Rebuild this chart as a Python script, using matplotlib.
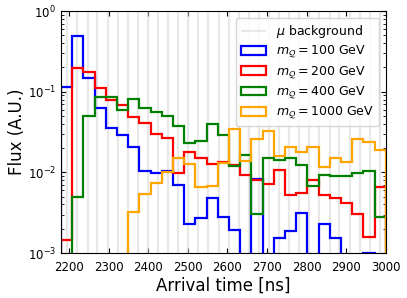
import numpy as np
import matplotlib
matplotlib.use('Agg')
import matplotlib.pyplot as plt

# 29 bins between 2180 and 3000 ns
edges = np.linspace(2180, 3000, 30)

flux_100 = [0.113, 0.494, 0.149, 0.0633, 0.0355, 0.029, 0.0208, 0.0104, 0.0097, 0.0104,
            0.00698, 0.00228, 0.00275, 0.00486, 0.00283, 0.00193, 0, 0.0083, 0, 0.00155,
            0.00188, 0.00311, 0, 0.00228, 0.00155, 0, 0, 0.00101, 0]
flux_200 = [0.00147, 0.195, 0.177, 0.112, 0.080, 0.0684, 0.049, 0.0413, 0.0299, 0.0265,
            0.00975, 0.0177, 0.015, 0.0127, 0.0135, 0.0124, 0.00929, 0.00805, 0.00713, 0.0107,
            0.00525, 0.00556, 0.00805, 0.00518, 0.00482, 0.00414, 0.00308, 0.00156, 0.00665]
flux_400 = [0, 0.005, 0.05, 0.0867, 0.085, 0.0593, 0.0805, 0.0633, 0.0555, 0.0505,
            0.0376, 0.0233, 0.0245, 0.0398, 0.0291, 0.012, 0.0164, 0.00302, 0.0152, 0.0143,
            0.0152, 0.0124, 0.00679, 0.00929, 0.00911, 0.00894, 0.00993, 0.0104, 0.00283]
flux_1000 = [0, 0, 0, 0, 0, 0, 0.00326, 0.0054, 0.00746, 0.01,
             0.0152, 0.0126, 0.00665, 0.00684, 0.013, 0.0342, 0.0138, 0.0259, 0.0326, 0.016,
             0.0208, 0.0177, 0.0208, 0.0118, 0.015, 0.0133, 0.0259, 0.024, 0.019]

# muon background arrival times (drawn as thin vertical lines)
bg_times = [2196, 2221, 2247, 2272, 2298, 2323, 2349, 2374, 2400, 2425, 2450, 2476,
            2501, 2527, 2552, 2578, 2603, 2629, 2654, 2680, 2705, 2730, 2756, 2781,
            2807, 2832, 2858, 2883, 2909, 2934, 2959, 2985]

masses = [100, 200, 400, 1000]
colors = ['blue', 'red', 'green', 'orange']
series = [flux_100, flux_200, flux_400, flux_1000]

fig = plt.figure(figsize=(4.07, 2.98), dpi=100)
ax = fig.add_axes([0.15, 0.151, 0.798, 0.812])

ax.vlines(bg_times, 1e-3, 1, color='lightgray', alpha=0.5, lw=1.6, label=r'$\mu$ background')
for m, c, vals in zip(masses, colors, series):
    ax.hist(edges[:-1], bins=edges, weights=vals, histtype='step', color=c, lw=1.6,
            label=r'$m_{\mathcal{Q}} = %d$ GeV' % m)

ax.set_yscale('log')
ax.set_xlim(2180, 3000)
ax.set_ylim(1e-3, 1)
ax.set_xticks(np.arange(2200, 3001, 100))
ax.tick_params(which='both', direction='in', top=True, right=True, labelsize=8.5)
ax.tick_params(axis='x', pad=6)
ax.set_xlabel('Arrival time [ns]', fontsize=12, labelpad=2)
ax.set_ylabel('Flux (A.U.)', fontsize=12, labelpad=1)
ax.legend(loc='upper right', fontsize=9, labelspacing=0.3, handlelength=2.0,
          borderaxespad=0.55)

fig.savefig('out.png', dpi=100)
